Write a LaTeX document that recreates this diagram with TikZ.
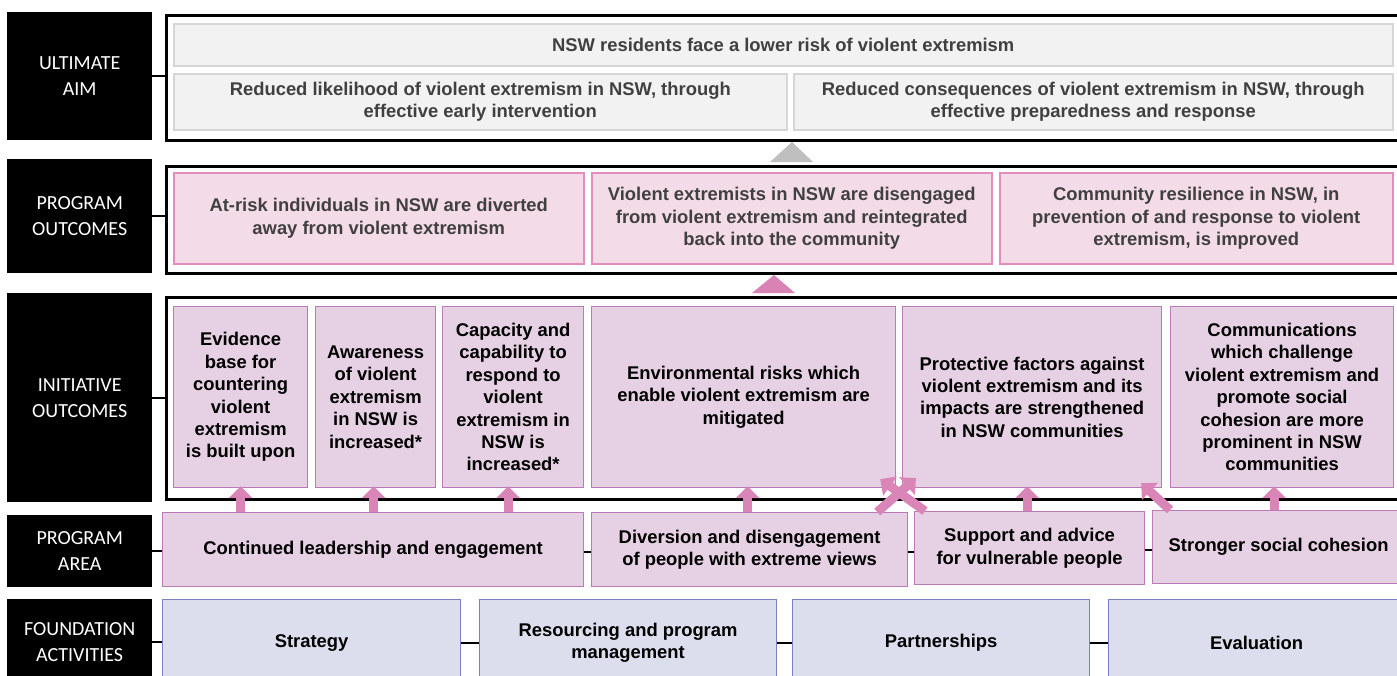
\documentclass[tikz,border=0pt]{standalone}
\usepackage{fontspec}
\setmainfont{Liberation Sans}
\newfontfamily\labfont{Carlito}
\usetikzlibrary{arrows.meta}

\definecolor{aimfill}{HTML}{F2F2F2}
\definecolor{aimline}{HTML}{D6D6D6}
\definecolor{aimtext}{HTML}{404040}
\definecolor{outfill}{HTML}{F4DBE8}
\definecolor{outline}{HTML}{E28DBE}
\definecolor{initfill}{HTML}{E6D0E4}
\definecolor{initline}{HTML}{B97BB5}
\definecolor{foundfill}{HTML}{DCDDED}
\definecolor{foundline}{HTML}{7C80C4}
\definecolor{arrowpink}{HTML}{DA85B8}
\definecolor{tripink}{HTML}{D882B5}
\definecolor{trigrey}{HTML}{BFBFBF}

\tikzset{
  boxtext/.style={align=center, inner sep=0pt, anchor=north west,
    font=\fontsize{18.4}{22.4}\selectfont\bfseries},
  lab/.style={fill=black, text=white, align=center, inner sep=0pt, anchor=north west,
    minimum width=145pt, font=\labfont\fontsize{20}{26}\selectfont},
  aimbox/.style={boxtext, draw=aimline, line width=1.5pt, fill=aimfill, text=aimtext, minimum height=#1},
  outbox/.style={boxtext, draw=outline, line width=1.5pt, fill=outfill, text=aimtext, minimum height=91pt},
  initbox/.style={boxtext, draw=initline, line width=1.2pt, fill=initfill, text=black, minimum height=181pt},
  areabox/.style={boxtext, draw=initline, line width=1.2pt, fill=initfill, text=black, minimum height=#1},
  foundbox/.style={boxtext, draw=foundline, line width=1.2pt, fill=foundfill, text=black, minimum height=86pt},
  frame/.style={draw=black, line width=3pt, inner sep=0pt, anchor=north west},
  link/.style={draw=black, line width=2pt},
  bigarrow/.style={draw=arrowpink, line width=9pt, -{Triangle[width=23pt,length=12pt]}}
}

\begin{document}
\begin{tikzpicture}[x=1pt, y=-1pt]
  \clip (0,0) rectangle (1397,675);
  \fill[white] (0,0) rectangle (1397,675);

  % row labels
  \node[lab, minimum height=128pt] (labaim) at (7,12) {ULTIMATE\\AIM};
  \node[lab, minimum height=114pt] (labout) at (7,159) {PROGRAM\\OUTCOMES};
  \node[lab, minimum height=209pt] (labinit) at (7,293) {INITIATIVE\\OUTCOMES};
  \node[lab, minimum height=72pt] (labarea) at (7,515) {PROGRAM\\AREA};
  \node[lab, minimum height=86pt, text depth=0pt] (labfound) at (7,599) {FOUNDATION\\ACTIVITIES};

  % frames
  \node[frame, minimum width=1245pt, minimum height=125pt] (fraim) at (165,14) {};
  \node[frame, minimum width=1245pt, minimum height=107pt] (frout) at (165,165) {};
  \node[frame, minimum width=1245pt, minimum height=202pt] (frinit) at (165,296) {};

  \draw[link] (labaim.east) -- (labaim.east -| fraim.west);
  \draw[link] (labout.east) -- (labout.east -| frout.west);
  \draw[link] (labinit.east) -- (labinit.east -| frinit.west);

  % ultimate aim
  \node[aimbox=42pt, minimum width=1219pt] (aimtop) at (173,23) {NSW residents face a lower risk of violent extremism};
  \node[aimbox=56pt, minimum width=613pt] (aimleft) at (173,73) {Reduced likelihood of violent extremism in NSW, through\\effective early intervention};
  \node[aimbox=56pt, minimum width=599pt] (aimright) at (793,73) {Reduced consequences of violent extremism in NSW, through\\effective preparedness and response};

  \fill[trigrey] (770,162) -- (792,142) -- (813,162) -- cycle;

  % program outcomes
  \node[outbox, minimum width=410pt] (out1) at (173,172) {At-risk individuals in NSW are diverted\\away from violent extremism};
  \node[outbox, minimum width=400pt] (out2) at (591,172) {Violent extremists in NSW are disengaged\\from violent extremism and reintegrated\\back into the community};
  \node[outbox, minimum width=393pt] (out3) at (999,172) {Community resilience in NSW, in\\prevention of and response to violent\\extremism, is improved};

  \fill[tripink] (752,293) -- (774,275) -- (795,293) -- cycle;

  % initiative outcomes
  \node[initbox, minimum width=134pt] (init1) at (173,306) {Evidence\\base for\\countering\\violent\\extremism\\is built upon};
  \node[initbox, minimum width=120pt] (init2) at (315,306) {Awareness\\of violent\\extremism\\in NSW is\\increased*};
  \node[initbox, minimum width=141pt] (init3) at (442,306) {Capacity and\\capability to\\respond to\\violent\\extremism in\\NSW is\\increased*};
  \node[initbox, minimum width=304pt] (init4) at (591,306) {Environmental risks which\\enable violent extremism are\\mitigated};
  \node[initbox, minimum width=259pt] (init5) at (902,306) {Protective factors against\\violent extremism and its\\impacts are strengthened\\in NSW communities};
  \node[initbox, minimum width=223pt] (init6) at (1170,306) {Communications\\which challenge\\violent extremism and\\promote social\\cohesion are more\\prominent in NSW\\communities};

  % program area
  \node[areabox=74pt, minimum width=421pt] (area1) at (162,512) {Continued leadership and engagement};
  \node[areabox=74pt, minimum width=316pt] (area2) at (591,512) {Diversion and disengagement\\of people with extreme views};
  \node[areabox=73pt, minimum width=230pt] (area3) at (914,511) {Support and advice\\for vulnerable people};
  \node[areabox=73pt, minimum width=252pt] (area4) at (1152,510) {Stronger social cohesion};

  \draw[link] (labarea.east) -- (labarea.east -| area1.west);
  \draw[link] ([yshift=-2pt]area1.east) -- ([yshift=-2pt]area1.east -| area2.west);
  \draw[link] ([yshift=-2pt]area2.east) -- ([yshift=-2pt]area2.east -| area3.west);
  \draw[link] ([yshift=-2pt]area3.east) -- ([yshift=-2pt]area3.east -| area4.west);

  % foundation activities
  \node[foundbox, minimum width=298pt] (found1) at (162,599) {Strategy};
  \node[foundbox, minimum width=297pt] (found2) at (479,599) {Resourcing and program\\management};
  \node[foundbox, minimum width=297pt] (found3) at (792,599) {Partnerships};
  \node[foundbox, minimum width=296pt] (found4) at (1108,599) {Evaluation};

  \draw[link] (labfound.east) -- (labfound.east -| found1.west);
  \draw[link] (found1.east) -- (found2.west);
  \draw[link] (found2.east) -- (found3.west);
  \draw[link] (found3.east) -- (found4.west);

  % arrows from program areas up to initiative outcomes
  \draw[bigarrow] (init1.south |- area1.north) -- ([yshift=2pt]init1.south);
  \draw[bigarrow] ([xshift=-2pt]init2.south |- area1.north) -- ([xshift=-2pt,yshift=2pt]init2.south);
  \draw[bigarrow] ([xshift=-5pt]init3.south |- area1.north) -- ([xshift=-5pt,yshift=2pt]init3.south);
  \draw[bigarrow] ([xshift=4pt]init4.south |- area2.north) -- ([xshift=4pt,yshift=2pt]init4.south);
  \draw[bigarrow] ([xshift=-31pt]area2.north east) -- ([xshift=14pt,yshift=10pt]init5.south west);
  \draw[bigarrow] ([xshift=11pt]area3.north west) -- ([xshift=-16pt,yshift=9pt]init4.south east);
  \draw[bigarrow] ([xshift=-5pt]init5.south |- area3.north) -- ([xshift=-5pt,yshift=2pt]init5.south);
  \draw[bigarrow] ([xshift=18pt]area4.north west) -- ([xshift=-21pt,yshift=5pt]init5.south east);
  \draw[bigarrow] ([xshift=-8pt]init6.south |- area4.north) -- ([xshift=-8pt,yshift=2pt]init6.south);
\end{tikzpicture}
\end{document}
